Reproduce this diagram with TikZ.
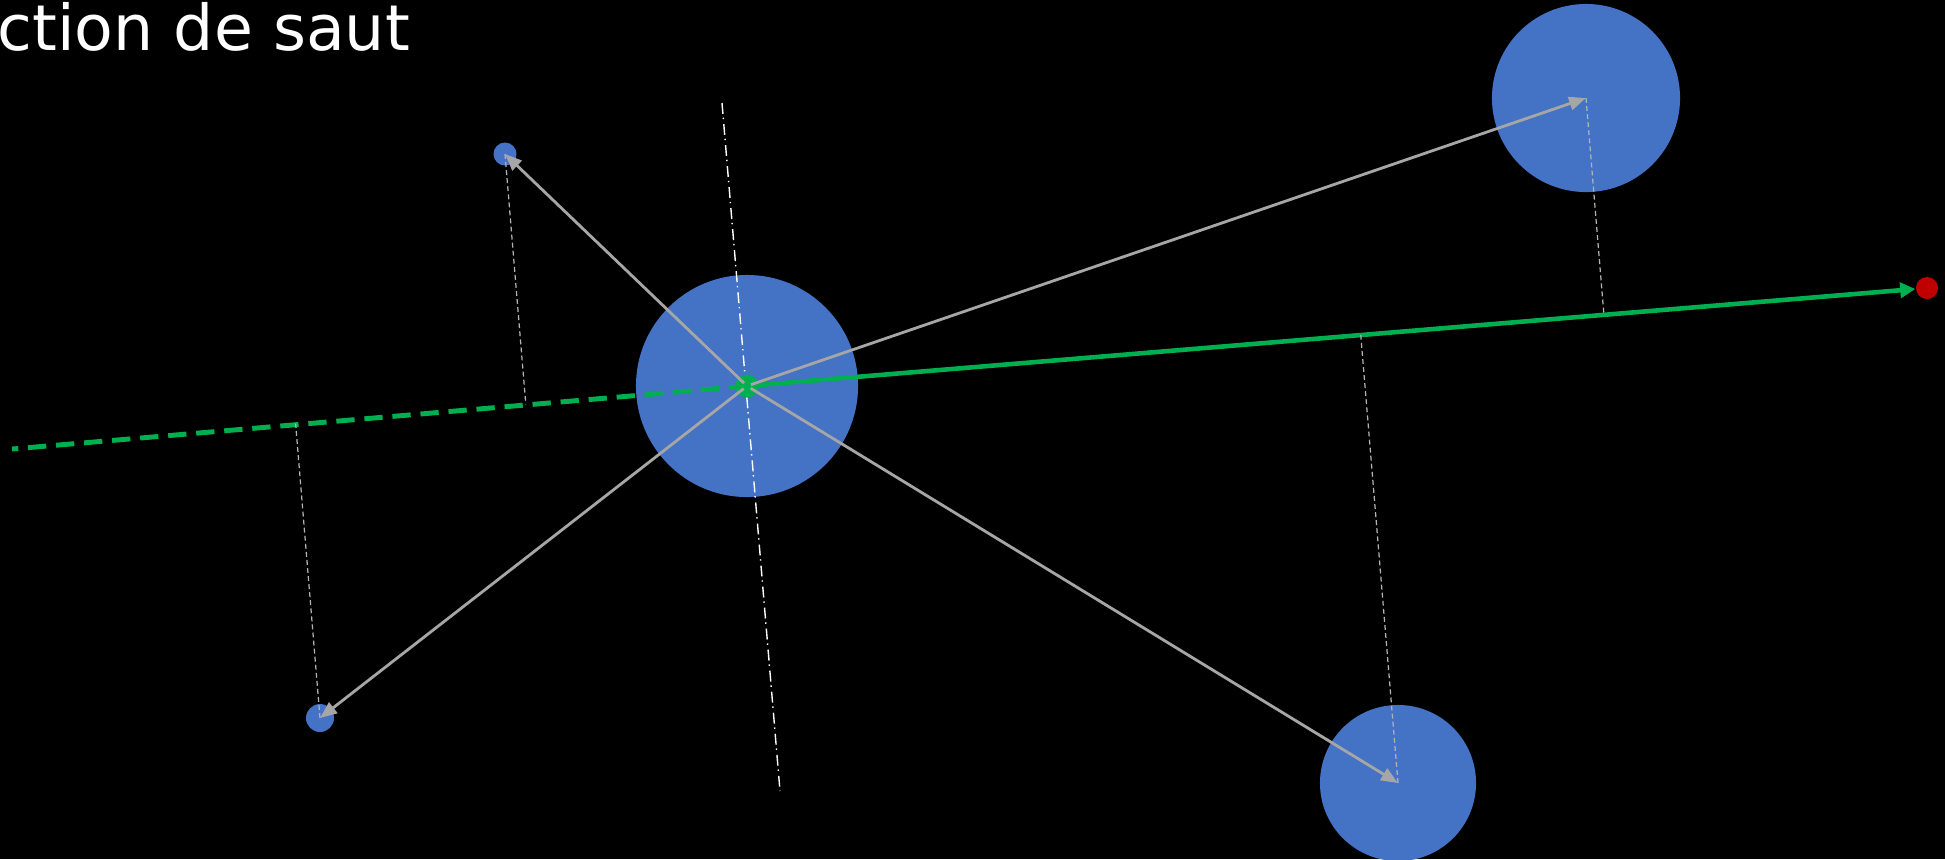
\documentclass[tikz,border=0pt]{standalone}
\usepackage{fontspec}
\setmainfont{DejaVu Sans}
\usetikzlibrary{arrows.meta,calc}
\definecolor{bodyblue}{RGB}{68,114,196}
\definecolor{jumpgreen}{RGB}{0,176,80}
\definecolor{goalred}{RGB}{192,0,0}
\definecolor{armgray}{RGB}{166,166,166}
\tikzset{
  body/.style={circle,fill=bodyblue,inner sep=0pt,minimum size=#1},
  spot/.style={circle,fill=#1,inner sep=0pt,minimum size=0.22cm},
  arm/.style={-{Triangle[length=4.8pt,width=3.8pt]},draw=armgray,line width=0.8pt,shorten <=1.2pt},
  proj/.style={draw=armgray!85,line width=0.35pt,dash pattern=on 1.4pt off 0.9pt},
  jump/.style={draw=jumpgreen,line width=1.3pt},
  axis/.style={draw=white,line width=0.4pt,dash pattern=on 3.1pt off 1.1pt on 0.4pt off 1.4pt},
  title/.style={anchor=base west,inner sep=0pt,text=white,font=\fontsize{18}{21}\selectfont}
}
\begin{document}
\begin{tikzpicture}[x=0.01cm,y=-0.01cm]
  \fill[black] (0,0) rectangle (1945,859);
  \useasboundingbox (0,0) rectangle (1945,859);
  \clip (0,0) rectangle (1945,859);
  \node[title] (title) at (-3,50) {ction de saut};
  % bodies
  \node[body=2.22cm] (hub) at (747,386) {};
  \node[body=1.88cm] (ne) at (1586,98) {};
  \node[body=1.56cm] (se) at (1398,783) {};
  \node[body=0.23cm] (nw) at (505,154) {};
  \node[body=0.28cm] (sw) at (320,718) {};
  \node[spot=goalred] (goal) at (1927,288) {};
  \coordinate (back) at (12,449);
  \coordinate (axtop) at (722,103);
  \coordinate (axbot) at (780,791);
  \draw[axis] (axtop) -- (axbot);
  % jump direction
  \draw[jump,line width=1.4pt,dash pattern=on 5.2pt off 2.8pt] (hub.center) -- (back);
  \draw[jump,-{Triangle[length=4.3pt,width=4.3pt]}] (hub.center) -- (goal);
  \node[spot=jumpgreen,minimum size=0.23cm] (origin) at (hub.center) {};
  % arms
  \foreach \b in {ne,se,nw,sw}
    \draw[arm] (hub.center) -- (\b.center);
  % projections
  \foreach \b in {ne,se,nw,sw}
    \draw[proj] (\b.center) -- ($(hub.center)!(\b.center)!(goal.center)$);
\end{tikzpicture}
\end{document}
